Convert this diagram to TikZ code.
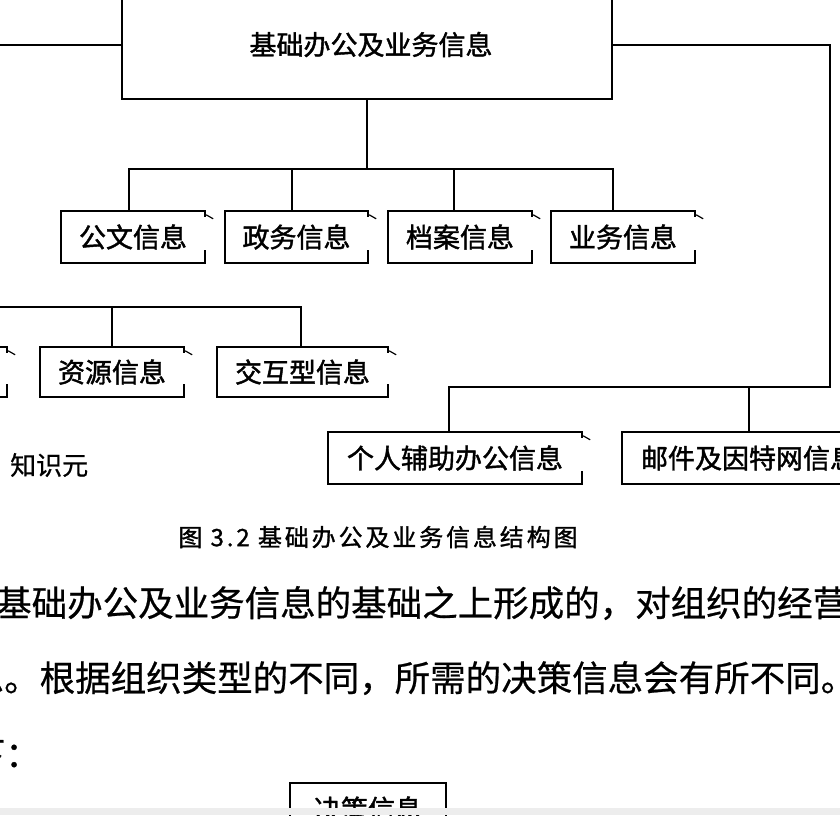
\documentclass[tikz,border=0pt]{standalone}
\usepackage{fontspec}
\newfontfamily\cjk{Noto Sans CJK SC}
\newfontfamily\cjkbox[FakeBold=1.5]{Noto Sans CJK SC}
\newfontfamily\cjkbody[FakeBold=0.6]{Noto Sans CJK SC}
\newfontfamily\cjkcap[LetterSpace=12,FakeBold=1.2]{Noto Sans CJK SC}
\newcommand\boxfont{\cjkbox\fontsize{27}{30}\selectfont}
\newcommand\bodyfont{\cjkbody\fontsize{35.5}{38}\selectfont}
\newcommand\capfont{\cjkcap\fontsize{24}{26}\selectfont}
\newcommand\openbox[1]{\draw[ln] ([yshift=-5pt]#1.north east) -- (#1.north east) -- (#1.north west) -- (#1.south west) -- (#1.south east) -- ([yshift=12pt]#1.south east);}
\newcommand\smark[1]{\draw[line width=1.2pt] ([xshift=1pt,yshift=-4pt]#1.north east) -- ++(7pt,-4pt);}
\begin{document}
\begin{tikzpicture}[x=1pt,y=-1pt,
  ln/.style={line width=2pt,line cap=rect},
  obox/.style={rectangle,inner sep=0pt,font=\boxfont},
  txt/.style={inner sep=0pt,anchor=west}]
\useasboundingbox (0,0) rectangle (840,815);
\clip (0,0) rectangle (840,815);
% main box
\node[draw,ln,rectangle,inner sep=0pt,minimum width=490pt,minimum height=109pt,font=\boxfont] (main) at (367,44.5) {\hspace*{8pt}基础办公及业务信息};
% row 1
\node[obox,minimum width=144pt,minimum height=52pt] (gw) at (133,237) {公文信息};
\node[obox,minimum width=143pt,minimum height=52pt] (zw) at (296.5,237) {政务信息};
\node[obox,minimum width=144pt,minimum height=52pt] (da) at (460,237) {档案信息};
\node[obox,minimum width=144pt,minimum height=52pt] (yw) at (623,237) {业务信息};
% row 2
\node[obox,minimum width=144pt,minimum height=50pt] (cut) at (-65,372) {};
\node[obox,minimum width=144pt,minimum height=50pt] (zy) at (112,372) {资源信息};
\node[obox,minimum width=171pt,minimum height=50pt] (jh) at (302.5,372) {交互型信息};
% row 3
\node[obox,minimum width=254pt,minimum height=52pt] (gr) at (455,458) {个人辅助办公信息};
\node[obox,minimum width=254pt,minimum height=52pt] (em) at (749,458) {邮件及因特网信息};
\foreach \b in {gw,zw,da,yw,cut,zy,jh,gr,em} {\openbox{\b}}
\foreach \b in {gw,zw,da,yw,cut,zy,jh,gr} {\smark{\b}}
% label
\node[txt,font=\cjkbody\fontsize{26}{28}\selectfont] (zsy) at (10,465) {知识元};
% connectors
\coordinate (lft) at (0,44.5);
\draw[ln] (main.west) -- (lft);
\coordinate (rc) at (830,387);
\draw[ln] (main.east) -| (rc) -| ([xshift=-6pt]gr.north);
\draw[ln] (em.north) -- (em.north |- rc);
\coordinate (b1) at (367,169);
\draw[ln] (main.south) -- (b1);
\draw[ln] ([xshift=-4pt]gw.north) |- ([xshift=-10pt]yw.north |- b1) -- ([xshift=-10pt]yw.north);
\draw[ln] ([xshift=-5pt]zw.north) -- ([xshift=-5pt]zw.north |- b1);
\draw[ln] ([xshift=-6pt]da.north) -- ([xshift=-6pt]da.north |- b1);
\coordinate (l2) at (0,307);
\draw[ln] (l2) -| ([xshift=-2pt]jh.north);
\draw[ln] (zy.north) -- (zy.north |- l2);
% caption and body text
\node[font=\capfont,inner sep=0pt] (cap) at (378,537) {图 3.2 基础办公及业务信息结构图};
\node[txt,font=\bodyfont] (t1) at (-4,603) {基础办公及业务信息的基础之上形成的，对组织的经营};
\node[txt,font=\bodyfont] (t2) at (-31.5,678) {息。根据组织类型的不同，所需的决策信息会有所不同。};
\node[txt,font=\bodyfont] (t3) at (-30.5,755) {下：};
% bottom box
\node[draw,ln,rectangle,inner sep=0pt,minimum width=156pt,minimum height=52pt,font=\boxfont] (jc) at (368,809) {决策信息};
\fill[black!7] (0,808) rectangle (840,815);
\end{tikzpicture}
\end{document}
